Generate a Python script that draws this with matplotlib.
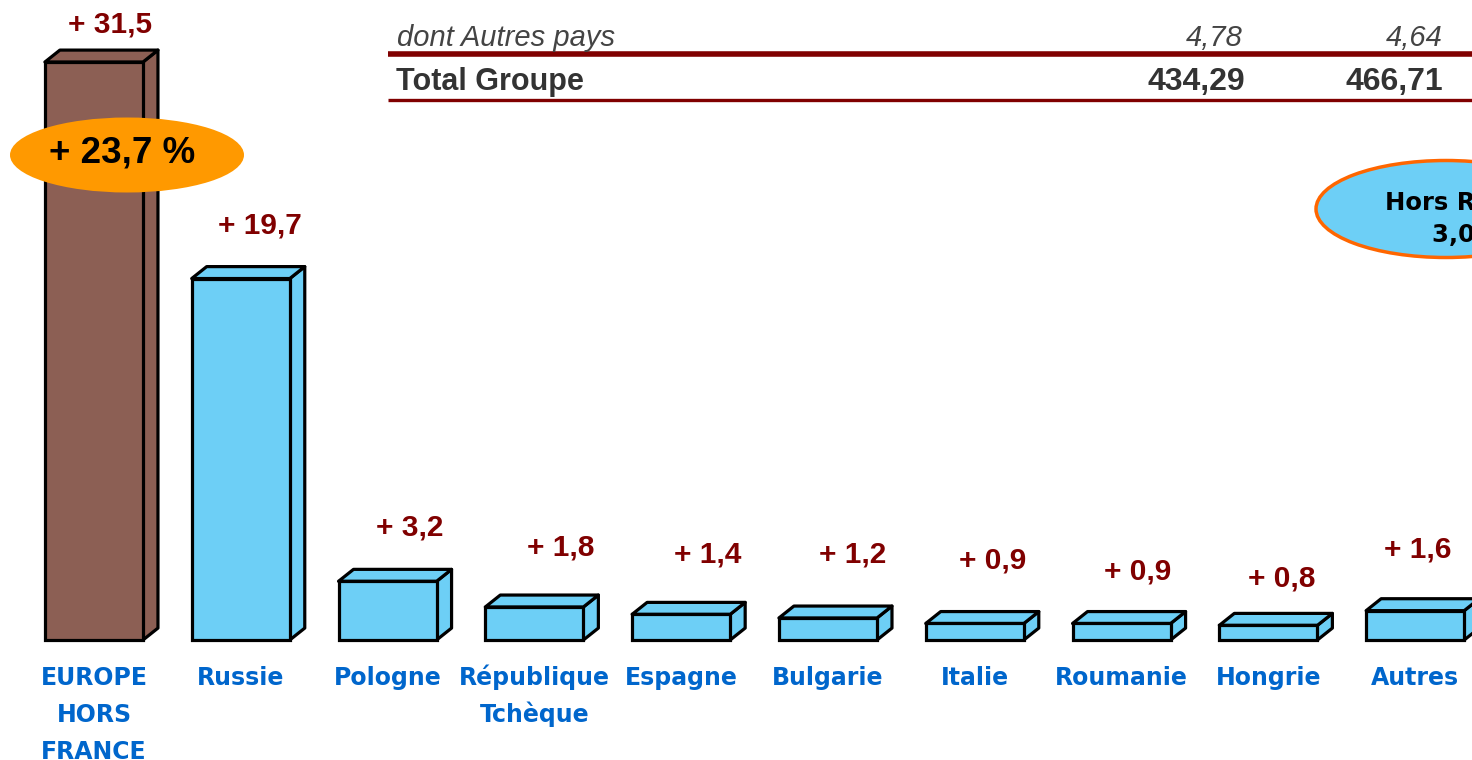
import matplotlib
matplotlib.use("Agg")
import matplotlib.pyplot as plt
from matplotlib.patches import Polygon, Ellipse

# data
pays = ["EUROPE\nHORS\nFRANCE", "Russie", "Pologne", "République\nTchèque", "Espagne",
        "Bulgarie", "Italie", "Roumanie", "Hongrie", "Autres"]
hausse = [31.5, 19.7, 3.2, 1.8, 1.4, 1.2, 0.9, 0.9, 0.8, 1.6]
etiquettes = ["+ 31,5", "+ 19,7", "+ 3,2", "+ 1,8", "+ 1,4", "+ 1,2", "+ 0,9", "+ 0,9", "+ 0,8", "+ 1,6"]
tab_lignes = ["dont Autres pays", "Total Groupe"]
tab_col1 = ["4,78", "434,29"]
tab_col2 = ["4,64", "466,71"]
bulle_europe = "+ 23,7 %"
bulle_hors = ["Hors Russie", "3,0 %"]

# layout (kept apart from the data)
lift = [1.63, 2.48, 2.52, 2.83, 2.85, 3.0, 3.02, 2.37, 2.09, 2.87]
shift = [0.11, 0.13, 0.15, 0.18, 0.18, 0.17, 0.12, 0.11, 0.09, 0.02]
BLEU = "#6DCFF6"
BRUN = "#8C5F54"
ROUGE = "#800000"
LIB = ["Liberation Sans", "DejaVu Sans"]

fig = plt.figure(figsize=(14.72, 7.6), dpi=100)
ax = fig.add_axes([0, 0, 1, 1])
ax.set_xlim(-0.640, 9.387)
ax.set_ylim(-6.54, 34.88)
ax.axis("off")

w = 0.668
dx, dy = 0.102, 0.65
x = list(range(len(pays)))
cols = [BRUN] + [BLEU] * (len(pays) - 1)

for i, v in enumerate(hausse):
    l, r = i - w / 2, i + w / 2
    side = Polygon([(r, 0), (r + dx, dy), (r + dx, v + dy), (r, v)], closed=True,
                   facecolor=cols[i], edgecolor="black", lw=2.3, joinstyle="round", zorder=2)
    top = Polygon([(l, v), (l + dx, v + dy), (r + dx, v + dy), (r, v)], closed=True,
                  facecolor=cols[i], edgecolor="black", lw=2.3, joinstyle="round", zorder=2)
    ax.add_patch(side)
    ax.add_patch(top)

ax.bar(x, hausse, width=w, color=cols, edgecolor="black", linewidth=2.3, zorder=3)

for i, v in enumerate(hausse):
    ax.text(i + shift[i], v + lift[i], etiquettes[i], ha="center", va="baseline",
            fontsize=21.5, fontweight="bold", color=ROUGE, family=LIB, zorder=5)
    for k, ligne in enumerate(pays[i].split("\n")):
        ax.text(i, -2.45 - 2.02 * k, ligne, ha="center", va="baseline", fontsize=17,
                fontweight="bold", color="#0066CC", family="DejaVu Sans", zorder=5)

# overlay in pixel units for the table and bubbles
ov = fig.add_axes([0, 0, 1, 1])
ov.set_xlim(0, 1472)
ov.set_ylim(760, 0)
ov.axis("off")
ov.patch.set_alpha(0)

ov.plot([388, 1472], [54, 54], color=ROUGE, lw=4, solid_capstyle="butt")
ov.plot([388, 1472], [99.5, 99.5], color=ROUGE, lw=2.4, solid_capstyle="butt")
ov.text(397, 46, tab_lignes[0], fontsize=21, style="italic", color="#444444",
        family=LIB, va="baseline")
ov.text(1243, 46, tab_col1[0], fontsize=21, style="italic", color="#444444",
        family=LIB, va="baseline", ha="right")
ov.text(1443, 46, tab_col2[0], fontsize=21, style="italic", color="#444444",
        family=LIB, va="baseline", ha="right")
ov.text(396, 90, tab_lignes[1], fontsize=22, fontweight="bold", color="#333333",
        family=LIB, va="baseline")
ov.text(1245, 90, tab_col1[1], fontsize=23, fontweight="bold", color="#333333",
        family=LIB, va="baseline", ha="right")
ov.text(1443, 90, tab_col2[1], fontsize=23, fontweight="bold", color="#333333",
        family=LIB, va="baseline", ha="right")

ov.add_patch(Ellipse((127, 155), 234, 75, facecolor="#FF9900", edgecolor="none", zorder=6))
ov.text(122, 162, bulle_europe, ha="center", va="baseline", fontsize=26.5,
        fontweight="bold", color="black", family=LIB, zorder=7)

ov.add_patch(Ellipse((1446, 209), 260, 97, facecolor=BLEU, edgecolor="#FF6600",
                     lw=2.5, zorder=6))
ov.text(1385, 210, bulle_hors[0], ha="left", va="baseline", fontsize=17.5,
        fontweight="bold", color="black", family="DejaVu Sans", zorder=7)
ov.text(1432, 242, bulle_hors[1], ha="left", va="baseline", fontsize=17.5,
        fontweight="bold", color="black", family="DejaVu Sans", zorder=7)

fig.savefig("out.png", dpi=100, facecolor="white")
